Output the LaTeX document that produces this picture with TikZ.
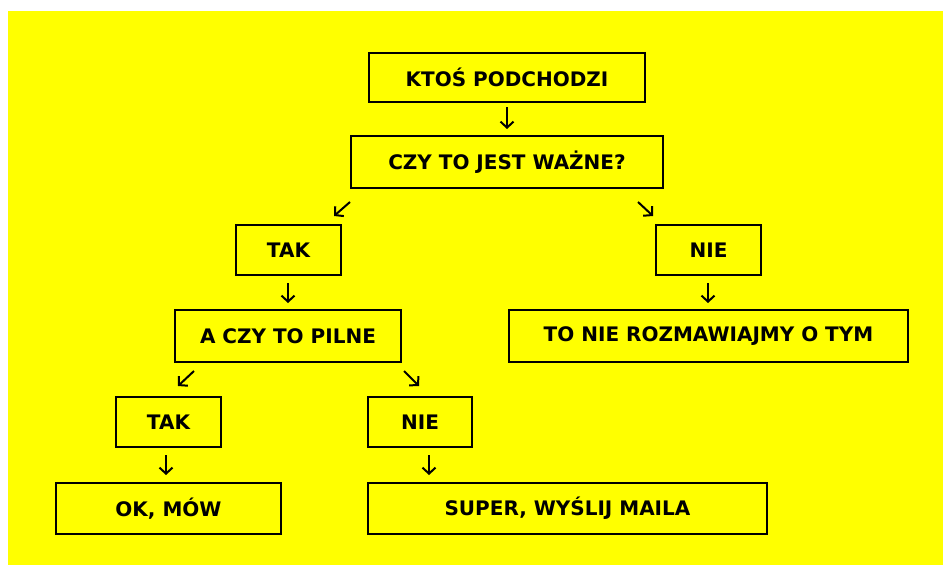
\documentclass[tikz,border=0pt]{standalone}
\usepackage{fontspec}
\setmainfont{DejaVu Sans}
\usetikzlibrary{arrows.meta}
\definecolor{bgyellow}{HTML}{FFFF00}
\tikzset{
  box/.style={draw=black, line width=2pt, fill=bgyellow, inner sep=0pt, outer sep=0pt,
    font=\bfseries\fontsize{20pt}{24pt}\selectfont, text=black},
  arr/.style={draw=black, line width=2pt, -{Straight Barb[length=6pt,width=13pt,line width=2pt]}}
}
\begin{document}
\begin{tikzpicture}[x=1pt,y=-1pt]
\useasboundingbox (0,0) rectangle (943,565);
\fill[bgyellow] (8,11) rectangle (943,565);
\node[box, minimum width=276pt, minimum height=49pt] (k) at (507,77.5) {KTOŚ PODCHODZI};
\node[box, minimum width=312pt, minimum height=52pt] (c) at (507,162) {CZY TO JEST WAŻNE?};
\node[box, minimum width=105pt, minimum height=50pt] (t1) at (288.5,250) {TAK};
\node[box, minimum width=105pt, minimum height=50pt] (n1) at (708.5,250) {NIE};
\node[box, minimum width=226pt, minimum height=52pt] (a) at (288,336) {A CZY TO PILNE};
\node[box, minimum width=399pt, minimum height=52pt] (tn) at (708.5,336) {TO NIE ROZMAWIAJMY O TYM};
\node[box, minimum width=105pt, minimum height=50pt] (t2) at (168.5,422) {TAK};
\node[box, minimum width=104pt, minimum height=50pt] (n2) at (420,422) {NIE};
\node[box, minimum width=225pt, minimum height=51pt] (ok) at (168.5,508.5) {OK, MÓW};
\node[box, minimum width=399pt, minimum height=51pt] (s) at (567.5,508.5) {SUPER, WYŚLIJ MAILA};
% arrow end points
\coordinate (kc1) at (507,107); \coordinate (kc2) at (507,129);
\coordinate (ct1) at (350,202); \coordinate (ct2) at (334,216);
\coordinate (cn1) at (638,202); \coordinate (cn2) at (653,216);
\coordinate (ta1) at (288,283); \coordinate (ta2) at (288,303);
\coordinate (nt1) at (708,283); \coordinate (nt2) at (708,303);
\coordinate (at1) at (194,371); \coordinate (at2) at (178,386);
\coordinate (an1) at (404,371); \coordinate (an2) at (419,386);
\coordinate (to1) at (166,455); \coordinate (to2) at (166,475);
\coordinate (ns1) at (429,455); \coordinate (ns2) at (429,475);
\draw[arr] (kc1) -- (kc2);
\draw[arr] (ct1) -- (ct2);
\draw[arr] (cn1) -- (cn2);
\draw[arr] (ta1) -- (ta2);
\draw[arr] (nt1) -- (nt2);
\draw[arr] (at1) -- (at2);
\draw[arr] (an1) -- (an2);
\draw[arr] (to1) -- (to2);
\draw[arr] (ns1) -- (ns2);
\end{tikzpicture}
\end{document}
